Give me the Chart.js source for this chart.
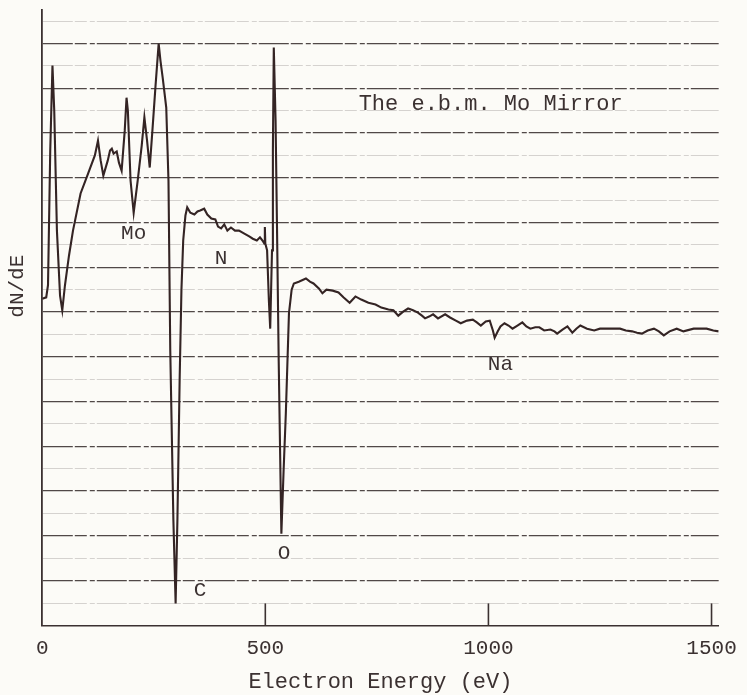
<!DOCTYPE html>
<html>
<head>
<meta charset="utf-8">
<title>The e.b.m. Mo Mirror</title>
<script src="https://cdn.jsdelivr.net/npm/chart.js"></script>
<style>
  html, body { margin: 0; padding: 0; background: #fcfbf7; }
  #wrap { width: 747px; height: 695px; position: relative; }
</style>
</head>
<body>
<div id="wrap"><canvas id="augerChart"></canvas></div>
<script>
// Auger spectrum (eV, dN/dE in chart-paper divisions)
var energy = [0,9,13,18,23,27,33,40,45,51,60,69,86,103,118,125,131,137,147,152,156,160,167,172,178,185,189,192,198,205,
  214,223,229,235,241,247,254,261,265,270,278,283,287,294,299,303,308,312,316,321,325,332,341,348,354,363,370,379,388,394,
  401,408,415,423,432,441,452,464,472,481,488,495,498,499,500,504,508,511,515,517,519,523,526,530,536,541,546,553,559,564,
  575,591,600,608,620,628,637,651,664,675,689,702,715,731,747,760,776,787,798,809,820,831,842,851,858,867,876,887,903,914,
  927,938,952,965,974,983,994,1003,1010,1014,1021,1027,1036,1045,1054,1065,1076,1085,1094,1105,1114,1125,1139,1148,1154,1166,1177,1188,1197,1206,
  1221,1237,1250,1266,1282,1295,1308,1322,1333,1344,1357,1371,1382,1393,1406,1422,1437,1460,1475,1489,1504,1516];
var signal = [7.30,7.33,7.6,10.6,12.51,11.5,8.82,7.37,7.04,7.6,8.26,8.82,9.65,10.10,10.5,10.83,10.39,10.05,10.39,10.61,10.65,10.54,10.59,10.34,10.16,11.06,11.79,11.5,9.94,9.22,
  9.94,10.72,11.35,10.83,10.23,11.06,12.06,13.0,12.62,12.24,11.57,9.94,6.14,2.35,0.49,2.35,5.47,7.48,8.6,9.16,9.34,9.22,9.18,9.25,9.27,9.31,9.18,9.09,9.07,8.91,
  8.87,8.96,8.82,8.89,8.82,8.82,8.76,8.69,8.64,8.60,8.67,8.58,8.53,8.9,8.53,8.38,7.26,6.63,8.38,10.61,12.91,11.28,9.05,5.92,2.05,3.46,4.74,6.97,7.5,7.64,
  7.68,7.75,7.68,7.64,7.53,7.42,7.5,7.48,7.44,7.33,7.21,7.35,7.28,7.21,7.17,7.10,7.06,7.04,6.92,7.01,7.08,7.04,6.99,6.92,6.86,6.90,6.95,6.86,6.95,6.88,
  6.81,6.75,6.81,6.83,6.77,6.70,6.79,6.81,6.59,6.43,6.57,6.68,6.75,6.70,6.63,6.70,6.77,6.68,6.63,6.66,6.66,6.59,6.61,6.57,6.52,6.61,6.68,6.54,6.63,6.70,
  6.63,6.59,6.63,6.63,6.63,6.63,6.59,6.57,6.54,6.52,6.59,6.63,6.57,6.48,6.57,6.63,6.57,6.63,6.63,6.63,6.59,6.57];

var xTicks = [0, 500, 1000, 1500];
var peakNames = ['Mo', 'N', 'O', 'C', 'Na'];
var peakEnergy = [205, 401, 542, 354, 1027];
var peakLevel = [8.76, 8.20, 1.61, 0.78, 5.83];
var titleText = 'The e.b.m. Mo Mirror';

var ink = '#3b3131';
var mono = "'Liberation Mono', 'DejaVu Sans Mono', monospace";

var points = [];
for (var i = 0; i < energy.length; i++) {
  points.push({x: energy[i], y: signal[i]});
}

// labels, title and the inward tick marks of the original plot
var notes = {
  id: 'notes',
  afterDatasetsDraw: function(chart) {
    var ctx = chart.ctx;
    var xs = chart.scales.x, ys = chart.scales.y;
    ctx.save();
    ctx.strokeStyle = ink;
    ctx.lineWidth = 1.6;
    xTicks.forEach(function(v) {
      if (v === 0) return;
      var px = xs.getPixelForValue(v);
      ctx.beginPath();
      ctx.moveTo(px, ys.bottom);
      ctx.lineTo(px, ys.bottom - 22);
      ctx.stroke();
    });
    ctx.fillStyle = ink;
    ctx.textAlign = 'center';
    ctx.textBaseline = 'middle';
    ctx.font = '21px ' + mono;
    for (var k = 0; k < peakNames.length; k++) {
      ctx.fillText(peakNames[k], xs.getPixelForValue(peakEnergy[k]), ys.getPixelForValue(peakLevel[k]));
    }
    ctx.font = '22px ' + mono;
    ctx.fillText(titleText, xs.getPixelForValue(1005), ys.getPixelForValue(11.64));
    ctx.restore();
  }
};

new Chart(document.getElementById('augerChart'), {
  type: 'line',
  data: {
    datasets: [{
      data: points,
      borderColor: '#342424',
      borderWidth: 2.1,
      pointRadius: 0,
      tension: 0,
      fill: false
    }]
  },
  options: {
    responsive: true,
    maintainAspectRatio: false,
    animation: false,
    layout: { padding: { top: 10, right: 25, bottom: 0, left: 0 } },
    plugins: { legend: { display: false }, tooltip: { enabled: false } },
    scales: {
      x: {
        type: 'linear',
        min: 0,
        max: 1516,
        afterBuildTicks: function(scale) {
          scale.ticks = xTicks.map(function(v) { return {value: v}; });
        },
        grid: { display: false, drawTicks: false },
        border: { display: true, color: ink, width: 1.6 },
        ticks: {
          padding: 10, maxRotation: 0, autoSkip: false, color: ink,
          font: { family: mono, size: 21 },
          callback: function(v) { return String(v); }
        },
        title: { display: true, text: 'Electron Energy (eV)', color: ink, font: { family: mono, size: 22 }, padding: { top: -2, bottom: 0 } }
      },
      y: {
        min: 0,
        max: 13.75,
        afterBuildTicks: function(scale) {
          var t = [];
          for (var v = 0.5; v < 13.75; v += 0.5) t.push({value: v});
          scale.ticks = t;
        },
        ticks: { display: false },
        grid: {
          drawTicks: false,
          color: function(c) {
            var v = c.tick ? c.tick.value : 0;
            if (Math.abs(v - Math.round(v)) < 0.01) return 'rgba(50,40,40,0.85)';
            return 'rgba(60,48,48,0.2)';
          },
          lineWidth: function(c) {
            var v = c.tick ? c.tick.value : 0;
            return Math.abs(v - Math.round(v)) < 0.01 ? 1.3 : 1;
          }
        },
        border: { display: true, color: ink, width: 1.8, dash: [30, 2, 12, 3, 5, 2] },
        title: { display: true, text: '     dN/dE', color: ink, font: { family: mono, size: 21 }, padding: { top: 5, bottom: 12 } }
      }
    }
  },
  plugins: [notes]
});
</script>
</body>
</html>
